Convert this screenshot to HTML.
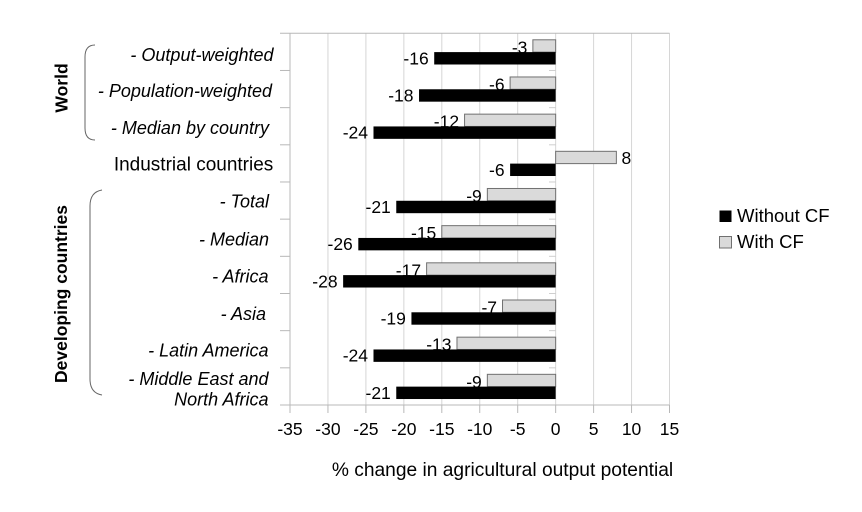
<!DOCTYPE html>
<html>
<head>
<meta charset="utf-8">
<style>
html,body{margin:0;padding:0;background:#fff;}
svg{display:block;}
text{font-family:"Liberation Sans",Arial,sans-serif;fill:#000;}
.it{font-style:italic;font-size:18px;}
.tk{font-size:17.5px;}
.dl{font-size:17.5px;}
</style>
</head>
<body>
<svg width="862" height="512" viewBox="0 0 862 512" xmlns="http://www.w3.org/2000/svg">
<rect width="862" height="512" fill="#fff"/>
<!-- vertical gridlines -->
<g stroke="#d6d6d6" stroke-width="1">
<line x1="327.95" y1="33.3" x2="327.95" y2="405"/>
<line x1="365.9" y1="33.3" x2="365.9" y2="405"/>
<line x1="403.85" y1="33.3" x2="403.85" y2="405"/>
<line x1="441.8" y1="33.3" x2="441.8" y2="405"/>
<line x1="479.75" y1="33.3" x2="479.75" y2="405"/>
<line x1="517.7" y1="33.3" x2="517.7" y2="405"/>
<line x1="555.65" y1="33.3" x2="555.65" y2="405"/>
<line x1="593.6" y1="33.3" x2="593.6" y2="405"/>
<line x1="631.55" y1="33.3" x2="631.55" y2="405"/>
<line x1="669.5" y1="33.3" x2="669.5" y2="405"/>
</g>
<!-- axes -->
<g stroke="#b8b8b8" stroke-width="1">
<line x1="280" y1="33.3" x2="669.5" y2="33.3"/>
<line x1="290" y1="33.3" x2="290" y2="413"/>
<line x1="280" y1="405" x2="669.5" y2="405"/>
<line x1="280" y1="70.47" x2="290" y2="70.47"/>
<line x1="280" y1="107.64" x2="290" y2="107.64"/>
<line x1="280" y1="144.81" x2="290" y2="144.81"/>
<line x1="280" y1="181.98" x2="290" y2="181.98"/>
<line x1="280" y1="219.15" x2="290" y2="219.15"/>
<line x1="280" y1="256.32" x2="290" y2="256.32"/>
<line x1="280" y1="293.49" x2="290" y2="293.49"/>
<line x1="280" y1="330.66" x2="290" y2="330.66"/>
<line x1="280" y1="367.83" x2="290" y2="367.83"/>
<line x1="327.95" y1="405" x2="327.95" y2="413"/>
<line x1="365.9" y1="405" x2="365.9" y2="413"/>
<line x1="403.85" y1="405" x2="403.85" y2="413"/>
<line x1="441.8" y1="405" x2="441.8" y2="413"/>
<line x1="479.75" y1="405" x2="479.75" y2="413"/>
<line x1="517.7" y1="405" x2="517.7" y2="413"/>
<line x1="555.65" y1="405" x2="555.65" y2="413"/>
<line x1="593.6" y1="405" x2="593.6" y2="413"/>
<line x1="631.55" y1="405" x2="631.55" y2="413"/>
<line x1="669.5" y1="405" x2="669.5" y2="413"/>
</g>
<!-- small ticks at zero -->
<g stroke="#cfcfcf" stroke-width="1">
<line x1="549" y1="70.47" x2="556" y2="70.47"/>
<line x1="549" y1="107.64" x2="556" y2="107.64"/>
<line x1="549" y1="144.81" x2="556" y2="144.81"/>
<line x1="549" y1="181.98" x2="556" y2="181.98"/>
<line x1="549" y1="219.15" x2="556" y2="219.15"/>
<line x1="549" y1="256.32" x2="556" y2="256.32"/>
<line x1="549" y1="293.49" x2="556" y2="293.49"/>
<line x1="549" y1="330.66" x2="556" y2="330.66"/>
<line x1="549" y1="367.83" x2="556" y2="367.83"/>
</g>
<!-- gray bars (With CF) -->
<g fill="#dadada" stroke="#707070" stroke-width="1">
<rect x="532.88" y="39.8" width="22.77" height="12.3"/>
<rect x="510.11" y="76.97" width="45.54" height="12.3"/>
<rect x="464.57" y="114.14" width="91.08" height="12.3"/>
<rect x="555.65" y="151.31" width="60.72" height="12.3"/>
<rect x="487.34" y="188.48" width="68.31" height="12.3"/>
<rect x="441.8" y="225.65" width="113.85" height="12.3"/>
<rect x="426.62" y="262.82" width="129.03" height="12.3"/>
<rect x="502.52" y="299.99" width="53.13" height="12.3"/>
<rect x="456.98" y="337.16" width="98.67" height="12.3"/>
<rect x="487.34" y="374.33" width="68.31" height="12.3"/>
</g>
<!-- gray labels -->
<g text-anchor="end">
<text class="dl" x="527.4" y="53.3">-3</text>
<text class="dl" x="504.6" y="90.5">-6</text>
<text class="dl" x="459.1" y="127.6">-12</text>
<text class="dl" x="481.8" y="202">-9</text>
<text class="dl" x="436.3" y="239.2">-15</text>
<text class="dl" x="421.1" y="276.3">-17</text>
<text class="dl" x="497" y="313.5">-7</text>
<text class="dl" x="451.5" y="350.7">-13</text>
<text class="dl" x="481.8" y="387.8">-9</text>
</g>
<text class="dl" x="621.5" y="164">8</text>
<!-- black bars (Without CF) -->
<g fill="#000">
<rect x="434.21" y="52.1" width="121.44" height="12.4"/>
<rect x="419.03" y="89.27" width="136.62" height="12.4"/>
<rect x="373.49" y="126.44" width="182.16" height="12.4"/>
<rect x="510.11" y="163.61" width="45.54" height="12.4"/>
<rect x="396.26" y="200.78" width="159.39" height="12.4"/>
<rect x="358.31" y="237.95" width="197.34" height="12.4"/>
<rect x="343.13" y="275.12" width="212.52" height="12.4"/>
<rect x="411.44" y="312.29" width="144.21" height="12.4"/>
<rect x="373.49" y="349.46" width="182.16" height="12.4"/>
<rect x="396.26" y="386.63" width="159.39" height="12.4"/>
</g>
<!-- black labels -->
<g text-anchor="end">
<text class="dl" x="428.7" y="64.3">-16</text>
<text class="dl" x="413.5" y="101.5">-18</text>
<text class="dl" x="368" y="138.6">-24</text>
<text class="dl" x="504.6" y="175.8">-6</text>
<text class="dl" x="390.8" y="213">-21</text>
<text class="dl" x="352.8" y="250.2">-26</text>
<text class="dl" x="337.6" y="287.3">-28</text>
<text class="dl" x="405.9" y="324.5">-19</text>
<text class="dl" x="368" y="361.7">-24</text>
<text class="dl" x="390.8" y="398.8">-21</text>
</g>
<!-- x tick labels -->
<g text-anchor="middle">
<text class="tk" x="290" y="435">-35</text>
<text class="tk" x="327.95" y="435">-30</text>
<text class="tk" x="365.9" y="435">-25</text>
<text class="tk" x="403.85" y="435">-20</text>
<text class="tk" x="441.8" y="435">-15</text>
<text class="tk" x="479.75" y="435">-10</text>
<text class="tk" x="517.7" y="435">-5</text>
<text class="tk" x="555.65" y="435">0</text>
<text class="tk" x="593.6" y="435">5</text>
<text class="tk" x="631.55" y="435">10</text>
<text class="tk" x="669.5" y="435">15</text>
</g>
<!-- axis title -->
<text x="502.5" y="476" text-anchor="middle" font-size="19.2">% change in agricultural output potential</text>
<!-- category labels -->
<g text-anchor="end">
<text class="it" x="273.5" y="61">- Output-weighted</text>
<text class="it" x="272" y="97">- Population-weighted</text>
<text class="it" x="269" y="134">- Median by country</text>
<text x="273.3" y="170.5" font-size="19">Industrial countries</text>
<text class="it" x="269" y="207.3">- Total</text>
<text class="it" x="269" y="245.7">- Median</text>
<text class="it" x="268.5" y="282.7">- Africa</text>
<text class="it" x="266" y="320">- Asia</text>
<text class="it" x="268.5" y="356.7">- Latin America</text>
<text class="it" x="268.5" y="385">- Middle East and</text>
<text class="it" x="268.5" y="405.7">North Africa</text>
</g>
<!-- group labels -->
<text transform="translate(67.5,88) rotate(-90)" text-anchor="middle" font-size="17.5" font-weight="bold">World</text>
<text transform="translate(67,294) rotate(-90)" text-anchor="middle" font-size="17.5" font-weight="bold">Developing countries</text>
<!-- brackets -->
<g fill="none" stroke="#666" stroke-width="1">
<path d="M95,45 Q85,45 85,57 L85,128 Q85,140 95,140"/>
<path d="M102,190 Q90,192 90,206 L90,379 Q90,393 102,395"/>
</g>
<!-- legend -->
<rect x="719.5" y="210.5" width="12" height="11.5" fill="#000"/>
<text x="737" y="222" font-size="18.5">Without CF</text>
<rect x="719.5" y="236.5" width="12" height="11.5" fill="#dadada" stroke="#707070" stroke-width="1"/>
<text x="737" y="248" font-size="18.5">With CF</text>
</svg>
</body>
</html>
